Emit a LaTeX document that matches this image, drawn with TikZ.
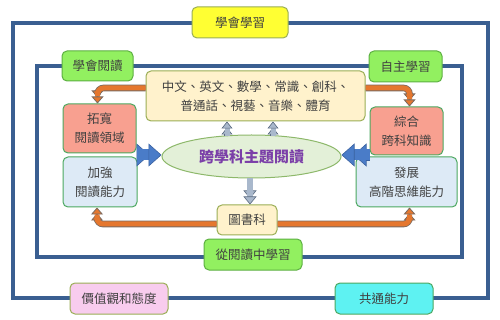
\documentclass[tikz,border=0pt]{standalone}
\usepackage{fontspec}
\setmainfont{Noto Sans CJK TC}
\usetikzlibrary{shapes.geometric,arrows.meta,calc}
\definecolor{frame}{HTML}{3A5F91}
\definecolor{txt}{HTML}{404040}
\definecolor{yel}{HTML}{FFFF33}
\definecolor{olive}{HTML}{9AAE55}
\definecolor{grn}{HTML}{92F060}
\definecolor{grnb}{HTML}{5DB042}
\definecolor{beige}{HTML}{FFF2CC}
\definecolor{salmon}{HTML}{F8A090}
\definecolor{boxb}{HTML}{4CA860}
\definecolor{lblue}{HTML}{DDEAF6}
\definecolor{ellf}{HTML}{E3F0D8}
\definecolor{ellb}{HTML}{8DB86A}
\definecolor{pink}{HTML}{F8CCEE}
\definecolor{cyanf}{HTML}{5EF2F2}
\definecolor{purp}{HTML}{7B3FA8}
\definecolor{sfill}{HTML}{A9B8CC}
\definecolor{sdark}{HTML}{5A6A80}
\definecolor{barrow}{HTML}{4A7CC8}
\definecolor{barrowd}{HTML}{3A62A0}
\definecolor{orng}{HTML}{E5772E}
\definecolor{orngd}{HTML}{7A6A60}
\tikzset{
  box/.style={rounded corners=5pt, line width=1pt, inner sep=0pt, align=center,
    text=txt, font=\fontsize{12.5}{19}\selectfont},
  gbox/.style={box, fill=grn, draw=grnb},
  bluearr/.style={draw=barrow, line width=11pt,
    -{Triangle[width=23pt,length=13pt,line width=0.6pt,color=barrowd,fill=barrow]},
    preaction={draw=barrowd, line width=12.2pt, shorten >=12pt}},
  smallarr/.style={draw=sfill, line width=5pt,
    -{Triangle[width=11pt,length=7pt,line width=0.6pt,color=sdark,fill=sfill]},
    preaction={draw=sdark, line width=6.2pt, shorten >=6pt}},
  orangearr/.style={draw=orng, line width=5pt, rounded corners=6pt,
    -{Triangle[width=12pt,length=7pt,line width=0.8pt,color=orngd,fill=orng]},
    preaction={draw=orngd, line width=6.6pt, shorten >=6pt}},
}
\begin{document}
\begin{tikzpicture}[x=1pt,y=-1pt]
\useasboundingbox (0,0) rectangle (500,320);
\fill[white] (0,0) rectangle (500,320);
% frames
\draw[frame, line width=4pt] (13,23) rectangle (488,298);
\draw[frame, line width=3.5pt] (37,66) rectangle (462,257);
% nodes
\node[box, fill=yel, draw=olive, minimum width=96pt, minimum height=31pt] (learn) at (240,22.5) {學會學習};
\node[gbox, minimum width=71pt, minimum height=30pt] (readlearn) at (97.5,66) {學會閱讀};
\node[gbox, minimum width=73pt, minimum height=31pt] (self) at (405.5,66.5) {自主學習};
\node[box, fill=beige, draw=olive, minimum width=219pt, minimum height=50pt] (subj) at (255.5,96) {中文、英文、數學、常識、創科、\\普通話、視藝、音樂、體育};
\node[box, fill=salmon, draw=boxb, minimum width=73pt, minimum height=49pt] (widen) at (99.5,128.5) {拓寬\\閱讀領域};
\node[box, fill=salmon, draw=boxb, minimum width=73pt, minimum height=48pt] (integ) at (406.5,131) {綜合\\跨科知識};
\node[box, fill=lblue, draw=boxb, minimum width=74pt, minimum height=50pt] (strengthen) at (100,182) {加強\\閱讀能力};
\node[box, fill=lblue, draw=boxb, minimum width=101pt, minimum height=50pt] (develop) at (406.5,182) {發展\\高階思維能力};
\node[ellipse, fill=ellf, draw=ellb, line width=1pt, minimum width=179pt, minimum height=43pt, inner sep=0pt, text=purp, font=\fontsize{15}{18}\selectfont\bfseries] (ell) at (251.5,156.5) {跨學科主題閱讀};
\node[box, fill=beige, draw=olive, minimum width=60pt, minimum height=30pt] (lib) at (247,220) {圖書科};
\node[gbox, minimum width=98pt, minimum height=31pt] (fromread) at (253,254.5) {從閱讀中學習};
\node[box, fill=pink, draw=olive, minimum width=98pt, minimum height=31pt] (values) at (119,298.5) {價值觀和態度};
\node[box, fill=cyanf, draw=boxb, minimum width=98pt, minimum height=31pt] (common) at (384,298.5) {共通能力};
% blue block arrows
\coordinate (bl) at ($(ell.west)+(0,-1.5)$);
\coordinate (br) at ($(ell.east)+(0,-1.5)$);
\draw[bluearr] (bl -| widen.east) -- (bl);
\draw[bluearr] (br -| integ.west) -- (br);
% small arrows
\coordinate (t1) at ($(ell.north)+(-24.5,1.5)$);
\coordinate (t2) at ($(ell.north)+(21.5,1.5)$);
\coordinate (t3) at ($(ell.south)+(-1.5,0)$);
\draw[smallarr] (t1) -- (t1 |- subj.south);
\draw[smallarr] (t2) -- (t2 |- subj.south);
\draw[smallarr, line width=6pt, preaction={line width=7.2pt}, -{Triangle[width=13pt,length=8pt,line width=0.6pt,color=sdark,fill=sfill]}] (t3) -- (t3 |- lib.north);
% orange arrows
\draw[orangearr] ([yshift=8pt]subj.west) -| ([xshift=-2pt]widen.north);
\draw[orangearr] ([yshift=8pt]subj.east) -| ([xshift=3pt]integ.north);
\draw[orangearr] ([yshift=-4pt]lib.west) -| ([xshift=-3pt]strengthen.south);
\draw[orangearr] ([yshift=-4pt]lib.east) -| ([xshift=3pt]develop.south);
\end{tikzpicture}
\end{document}
